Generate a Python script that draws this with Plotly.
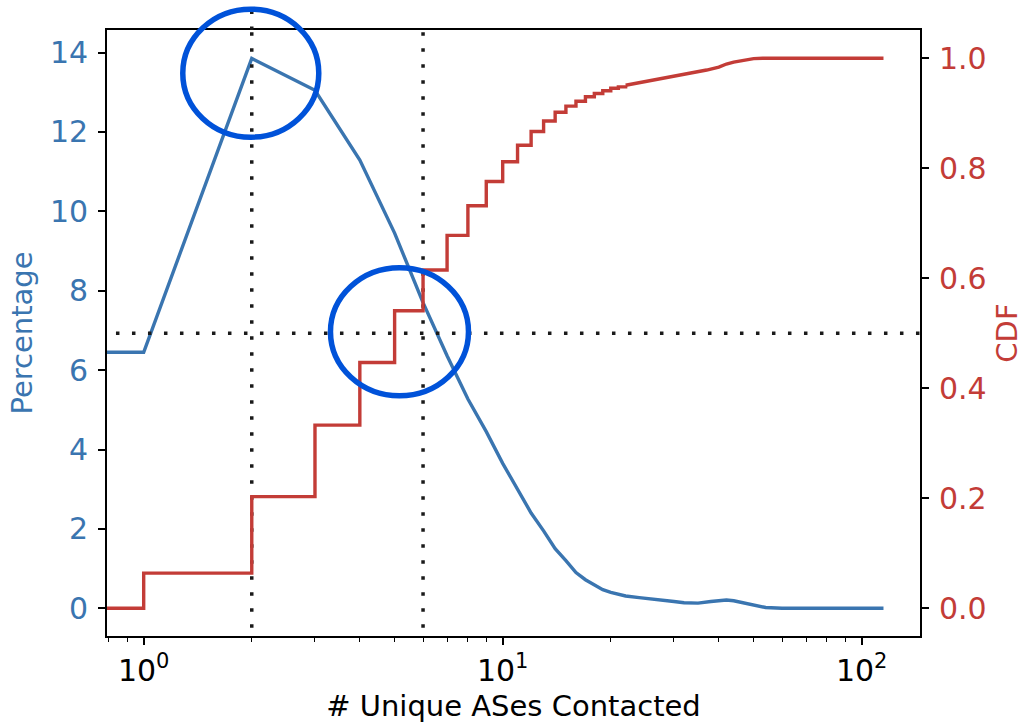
import math
import plotly.graph_objects as go

# ---------------- data ----------------
# Percentage of hosts by number of unique ASes contacted
pct_x = [0.5, 1, 2, 3, 4, 5, 6, 7, 8, 9, 10, 11, 12, 13, 14, 15, 16, 17, 18, 19, 20,
         22, 24, 26, 28, 30, 32, 35, 38, 40, 42, 44, 46, 50, 54, 60, 115]
pct_y = [6.45, 6.45, 13.85, 13.05, 11.29, 9.45, 7.70, 6.36, 5.27, 4.45, 3.65, 2.98, 2.40,
         1.95, 1.50, 1.20, 0.90, 0.72, 0.60, 0.47, 0.40, 0.31, 0.27, 0.24, 0.21, 0.17,
         0.14, 0.13, 0.17, 0.19, 0.21, 0.19, 0.15, 0.08, 0.02, 0.0, 0.0]

# CDF of number of unique ASes contacted: visible steps up to 22 ...
cdf_x = [0.5, 1, 2, 3, 4, 5, 6, 7, 8, 9, 10, 11, 12, 13, 14, 15, 16, 17, 18, 19, 20, 21, 22]
cdf_y = [0.0, 0.064, 0.203, 0.333, 0.447, 0.541, 0.615, 0.678, 0.732, 0.776, 0.812,
         0.842, 0.867, 0.886, 0.902, 0.913, 0.922, 0.930, 0.936, 0.941, 0.9455, 0.948, 0.951]
# ... and the tail, where steps are too fine to see
cdf_tail_x = [22, 24, 27, 30, 33, 37, 40, 42, 44, 46, 48, 50, 53, 115]
cdf_tail_y = [0.951, 0.9557, 0.961, 0.9665, 0.972, 0.9787, 0.984, 0.9896, 0.993, 0.9956,
              0.998, 0.9995, 1.0, 1.0]

# reference lines
vline_x = [2, 6]
hline_cdf = 0.5

# highlight circles: (log10 x centre, value on axis, axis, rx px, ry px)
circles = [(0.2983, 13.48, "y", 68, 64), (0.7125, 0.503, "y2", 69, 64)]

x_ticks = [1, 10, 100]
x_ticktext = ["10<sup>0</sup>", "10<sup>1</sup>", "10<sup>2</sup>"]
x_minor = [0.8, 0.9, 2, 3, 4, 5, 6, 7, 8, 9, 20, 30, 40, 50, 60, 70, 80, 90]
y_ticks = [0, 2, 4, 6, 8, 10, 12, 14]
y2_ticks = [0.0, 0.2, 0.4, 0.6, 0.8, 1.0]

# ---------------- styling ----------------
BLUE = "#3a75b0"
RED = "#c33c37"
CIRCLE = "#0052d9"
FONT = "DejaVu Sans"
W, H = 1024, 723
ML, MR, MT, MB = 107, 104, 30, 87
XR = [-0.1022, 2.1624]
YR = [-0.698, 14.567]
Y2R = [-0.0504, 1.0515]
PW, PH = W - ML - MR, H - MT - MB
LW = 3.4

fig = go.Figure()

fig.add_trace(go.Scatter(x=pct_x, y=pct_y, mode="lines", yaxis="y",
                         line=dict(color=BLUE, width=LW), showlegend=False))
fig.add_trace(go.Scatter(x=cdf_x, y=cdf_y, mode="lines", yaxis="y2",
                         line=dict(color=RED, width=LW, shape="hv"), showlegend=False))
fig.add_trace(go.Scatter(x=cdf_tail_x, y=cdf_tail_y, mode="lines", yaxis="y2",
                         line=dict(color=RED, width=LW, shape="linear"),
                         showlegend=False))

DOT = "3.5px,12.5px"
DOTC = "#1a1a1a"
for vx in vline_x:
    fig.add_trace(go.Scatter(x=[vx, vx], y=[YR[0] - 1, YR[1] + 1], mode="lines", yaxis="y",
                             line=dict(color=DOTC, width=3.5, dash=DOT),
                             showlegend=False, hoverinfo="skip"))
fig.add_trace(go.Scatter(x=[0.3, 300], y=[hline_cdf, hline_cdf], mode="lines", yaxis="y2",
                         line=dict(color=DOTC, width=3.5, dash=DOT),
                         showlegend=False, hoverinfo="skip"))

# extension of the x=2 dotted line above the frame
px2 = (math.log10(vline_x[0]) - XR[0]) / (XR[1] - XR[0])
fig.add_shape(type="line", xref="paper", yref="paper", x0=px2, x1=px2,
              y0=1.0, y1=1.0 + 20 / PH,
              line=dict(color=DOTC, width=3.5, dash=DOT))

for lx, val, ax, rx, ry in circles:
    rng = YR if ax == "y" else Y2R
    cx = (lx - XR[0]) / (XR[1] - XR[0])
    cy = (val - rng[0]) / (rng[1] - rng[0])
    fig.add_shape(type="circle", xref="paper", yref="paper",
                  x0=cx - rx / PW, x1=cx + rx / PW, y0=cy - ry / PH, y1=cy + ry / PH,
                  line=dict(color=CIRCLE, width=5.5), layer="above")

fig.update_layout(
    width=W, height=H,
    margin=dict(l=ML, r=MR, t=MT, b=MB, pad=0, autoexpand=False),
    plot_bgcolor="white", paper_bgcolor="white",
    font=dict(family=FONT, size=30, color="black"),
    xaxis=dict(
        type="log", range=XR, automargin=False,
        tickmode="array", tickvals=x_ticks, ticktext=x_ticktext,
        ticks="outside", ticklen=7, tickwidth=1.5, tickcolor="black",
        showline=True, linecolor="black", linewidth=1.8, mirror=True,
        showgrid=False, zeroline=False,
        tickfont=dict(family=FONT, size=30, color="black"),
        minor=dict(tickvals=x_minor, ticks="outside", ticklen=4, tickwidth=1.2,
                   tickcolor="black", showgrid=False),
        title=dict(text="# Unique ASes Contacted", standoff=14,
                   font=dict(family=FONT, size=29, color="black")),
    ),
    yaxis=dict(
        range=YR, tickmode="array", tickvals=y_ticks, automargin=False,
        ticks="outside", ticklen=7, tickwidth=1.5, tickcolor="black",
        showline=True, linecolor="black", linewidth=1.8,
        showgrid=False, zeroline=False, ticklabelstandoff=4,
        tickfont=dict(family=FONT, size=30, color=BLUE),
        title=dict(text="Percentage", standoff=9,
                   font=dict(family=FONT, size=29, color=BLUE)),
    ),
    yaxis2=dict(
        range=Y2R, overlaying="y", side="right", automargin=False,
        tickmode="array", tickvals=y2_ticks, tickformat=".1f",
        ticks="outside", ticklen=7, tickwidth=1.5, tickcolor="black",
        showline=True, linecolor="black", linewidth=1.8,
        showgrid=False, zeroline=False, ticklabelstandoff=4,
        tickfont=dict(family=FONT, size=30, color=RED),
        title=dict(text="CDF", standoff=20,
                   font=dict(family=FONT, size=29, color=RED)),
    ),
)

fig.write_html("out.html")
